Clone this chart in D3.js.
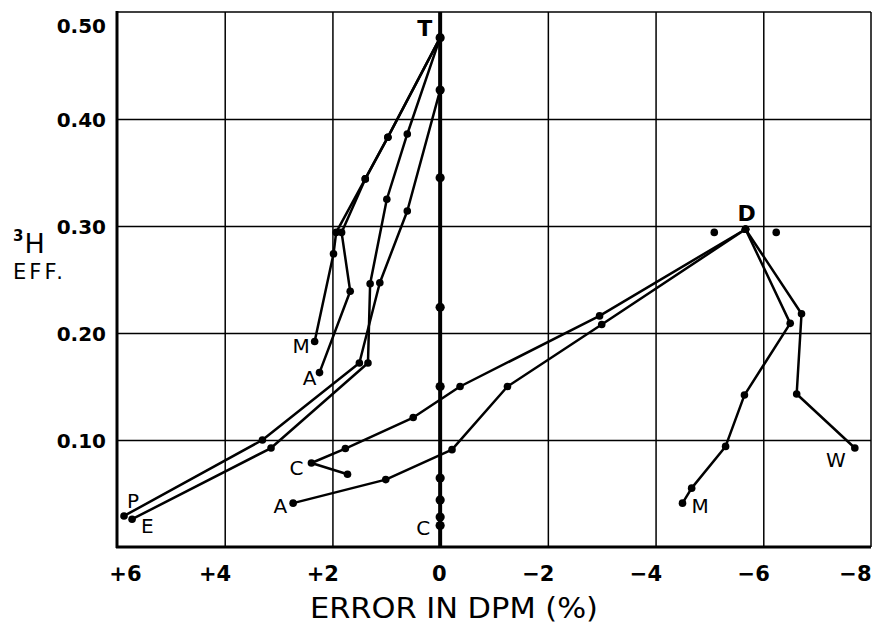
<!DOCTYPE html>
<html lang="en">
<head>
<meta charset="UTF-8">
<script src="https://d3js.org/d3.v7.min.js"></script>
<title>3H efficiency vs error in DPM</title>
<style>
  body { margin: 0; background: #fff; }
  text { fill: #000; }
</style>
</head>
<body>
<script>
    // ticks
    let xTicks = [6, 4, 2, 0, -2, -4, -6, -8];
    let xTickLabels = ["+6", "+4", "+2", "0", "\u22122", "\u22124", "\u22126", "\u22128"];
    let yTicks = [0.1, 0.2, 0.3, 0.4, 0.5];
    let yTickLabels = ["0.10", "0.20", "0.30", "0.40", "0.50"];

    // zero line series (T ... C)
    let zeroY = [0.476, 0.427, 0.345, 0.224, 0.150, 0.0645, 0.044, 0.028, 0.020];

    // curves starting at T
    let mTopX = [0, 0.97, 1.39, 1.93, 1.98, 2.33];
    let mTopY = [0.476, 0.383, 0.344, 0.294, 0.274, 0.192];
    let aTopX = [0, 0.97, 1.39, 1.83, 1.67, 2.24];
    let aTopY = [0.476, 0.383, 0.344, 0.294, 0.239, 0.163];
    let eX = [0, 0.61, 0.99, 1.30, 1.34, 3.14, 5.72];
    let eY = [0.476, 0.386, 0.325, 0.246, 0.172, 0.0925, 0.026];
    let pX = [0, 0, 0.61, 1.12, 1.50, 3.30, 5.87];
    let pY = [0.476, 0.427, 0.314, 0.247, 0.172, 0.100, 0.029];

    // curves starting at D
    let cX = [-5.67, -2.96, -0.37, 0.50, 1.76, 2.39, 1.72];
    let cY = [0.297, 0.216, 0.150, 0.121, 0.092, 0.0785, 0.068];
    let aLowX = [-5.67, -3.0, -1.25, -0.22, 1.01, 2.73];
    let aLowY = [0.297, 0.208, 0.150, 0.091, 0.063, 0.041];
    let mLowX = [-5.67, -6.50, -5.65, -5.30, -4.67, -4.50];
    let mLowY = [0.297, 0.209, 0.142, 0.094, 0.055, 0.041];
    let wX = [-5.67, -6.71, -6.62, -7.70];
    let wY = [0.297, 0.218, 0.143, 0.0925];

    // two loose points beside D
    let looseX = [-5.09, -6.24];
    let looseY = [0.294, 0.294];

    let width = 878, height = 624;
    let plotLeft = 117, plotRight = 871, plotTop = 12, plotBottom = 547;

    let x = d3.scaleLinear().domain([6, -8]).range([plotLeft, plotRight]);
    let y = d3.scaleLinear().domain([0, 0.5]).range([plotBottom, plotTop]);

    let svg = d3.select("body").append("svg")
        .attr("width", width)
        .attr("height", height)
        .style("font-family", "'DejaVu Sans', sans-serif");

    // grid
    svg.append("g")
        .attr("transform", "translate(0," + plotBottom + ")")
        .call(d3.axisBottom(x).tickValues(xTicks.slice(1, -1)).tickSize(-(plotBottom - plotTop)).tickFormat(""))
        .call(g => g.select(".domain").remove())
        .call(g => g.selectAll("line").attr("stroke", "#000").attr("stroke-width", 1.5));

    svg.append("g")
        .attr("transform", "translate(" + plotLeft + ",0)")
        .call(d3.axisLeft(y).tickValues(yTicks.slice(0, -1)).tickSize(-(plotRight - plotLeft)).tickFormat(""))
        .call(g => g.select(".domain").remove())
        .call(g => g.selectAll("line").attr("stroke", "#000").attr("stroke-width", 1.5));

    // frame
    svg.append("line").attr("x1", plotLeft).attr("x2", plotRight).attr("y1", plotTop).attr("y2", plotTop)
        .attr("stroke", "#000").attr("stroke-width", 1.5);
    svg.append("line").attr("x1", plotRight).attr("x2", plotRight).attr("y1", plotTop).attr("y2", plotBottom)
        .attr("stroke", "#000").attr("stroke-width", 1.5);
    svg.append("line").attr("x1", plotLeft).attr("x2", plotLeft).attr("y1", plotTop - 1).attr("y2", plotBottom + 1)
        .attr("stroke", "#000").attr("stroke-width", 3);
    svg.append("line").attr("x1", plotLeft - 1).attr("x2", plotRight).attr("y1", plotBottom).attr("y2", plotBottom)
        .attr("stroke", "#000").attr("stroke-width", 3);

    // tick labels
    let xAxis = svg.append("g")
        .attr("transform", "translate(0," + plotBottom + ")")
        .call(d3.axisBottom(x).tickValues(xTicks).tickSize(0).tickPadding(0)
            .tickFormat((d, i) => xTickLabels[i]))
        .call(g => g.select(".domain").remove());
    xAxis.selectAll("text")
        .attr("y", 34)
        .attr("dy", 0)
        .attr("text-anchor", "end")
        .attr("dx", (d, i) => i == 0 ? 24 : (i == xTicks.length - 1 ? 0 : 6))
        .style("font-size", "21px")
        .style("font-weight", "bold")
        .style("font-family", "'DejaVu Sans', sans-serif");

    let yAxis = svg.append("g")
        .attr("transform", "translate(" + plotLeft + ",0)")
        .call(d3.axisLeft(y).tickValues(yTicks).tickSize(0).tickPadding(11)
            .tickFormat((d, i) => yTickLabels[i]))
        .call(g => g.select(".domain").remove());
    yAxis.selectAll("text")
        .attr("dy", (d, i) => i == yTicks.length - 1 ? "1.0em" : "0.36em")
        .style("font-size", "20px")
        .style("font-weight", "bold")
        .style("font-family", "'DejaVu Sans', sans-serif");

    // axis titles
    svg.append("text")
        .attr("x", 310).attr("y", 618)
        .attr("textLength", 288)
        .attr("lengthAdjust", "spacingAndGlyphs")
        .style("font-size", "28px")
        .style("font-family", "'DejaVu Sans Condensed', 'DejaVu Sans', sans-serif")
        .text("ERROR IN DPM (%)");

    let yTitle = svg.append("text")
        .attr("x", 13).attr("y", 253)
        .style("font-family", "'DejaVu Sans', sans-serif");
    yTitle.append("tspan").attr("dy", -12).style("font-size", "15px").style("font-weight", "bold").text("3");
    yTitle.append("tspan").attr("dy", 12).attr("dx", 1).style("font-size", "27px").text("H");
    svg.append("text")
        .attr("x", 13).attr("y", 279)
        .attr("textLength", 50)
        .attr("lengthAdjust", "spacing")
        .style("font-size", "21px")
        .text("EFF.");

    // series
    let line = d3.line()
        .x(d => x(d[0]))
        .y(d => y(d[1]));

    let zip = (xs, ys) => xs.map((v, i) => [v, ys[i]]);

    let series = [
        zip(mTopX, mTopY),
        zip(aTopX, aTopY),
        zip(eX, eY),
        zip(pX, pY),
        zip(cX, cY),
        zip(aLowX, aLowY),
        zip(mLowX, mLowY),
        zip(wX, wY)
    ];

    // heavy zero line
    svg.append("line")
        .attr("x1", x(0)).attr("x2", x(0))
        .attr("y1", y(0.5)).attr("y2", y(0))
        .attr("stroke", "#000")
        .attr("stroke-width", 4);

    series.forEach(s => {
        svg.append("path")
            .datum(s)
            .attr("d", line)
            .attr("fill", "none")
            .attr("stroke", "#000")
            .attr("stroke-width", 2.5)
            .attr("stroke-linejoin", "round");
    });

    let dots = [];
    series.forEach(s => s.forEach(p => dots.push(p)));
    looseX.forEach((v, i) => dots.push([v, looseY[i]]));

    svg.append("g").selectAll("circle")
        .data(dots)
        .join("circle")
        .attr("cx", d => x(d[0]))
        .attr("cy", d => y(d[1]))
        .attr("r", 3.8)
        .attr("fill", "#000");

    // zero line dots are a bit bigger
    svg.append("g").selectAll("circle")
        .data(zeroY)
        .join("circle")
        .attr("cx", x(0))
        .attr("cy", d => y(d))
        .attr("r", 4.6)
        .attr("fill", "#000");

    // curve labels
    let labels = [
        { t: "T", p: [0, 0.476], dx: -8, dy: -2, a: "end", b: true },
        { t: "D", p: [-5.67, 0.297], dx: 1, dy: -8, a: "middle", b: true },
        { t: "M", p: [mTopX[5], mTopY[5]], dx: -5, dy: 11, a: "end" },
        { t: "A", p: [aTopX[5], aTopY[5]], dx: -3, dy: 12, a: "end" },
        { t: "P", p: [pX[6], pY[6]], dx: 3, dy: -8, a: "start" },
        { t: "E", p: [eX[6], eY[6]], dx: 9, dy: 14, a: "start" },
        { t: "C", p: [cX[5], cY[5]], dx: -8, dy: 12, a: "end" },
        { t: "A", p: [aLowX[5], aLowY[5]], dx: -6, dy: 10, a: "end" },
        { t: "C", p: [0, zeroY[8]], dx: -10, dy: 9, a: "end" },
        { t: "M", p: [mLowX[5], mLowY[5]], dx: 9, dy: 10, a: "start" },
        { t: "W", p: [wX[3], wY[3]], dx: -9, dy: 19, a: "end" }
    ];

    svg.append("g").selectAll("text")
        .data(labels)
        .join("text")
        .attr("x", d => x(d.p[0]) + d.dx)
        .attr("y", d => y(d.p[1]) + d.dy)
        .attr("text-anchor", d => d.a)
        .style("font-size", d => d.b ? "22px" : "20px")
        .style("font-weight", d => d.b ? "bold" : "normal")
        .style("font-family", "'DejaVu Sans', sans-serif")
        .text(d => d.t);
</script>
</body>
</html>
